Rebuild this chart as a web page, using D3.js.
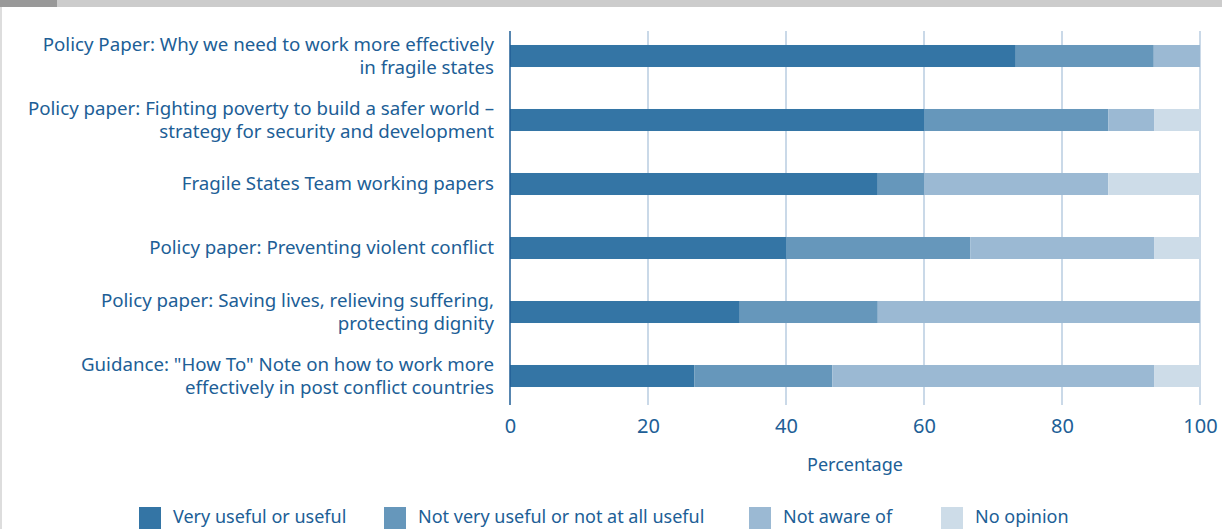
<!DOCTYPE html>
<html>
<head>
<meta charset="utf-8">
<script src="https://cdn.jsdelivr.net/npm/d3@7"></script>
<style>
  body { margin: 0; background: #fff; overflow: hidden; }
  text { font-family: "Noto Sans", sans-serif; fill: #205e96; }
</style>
</head>
<body>
<div id="chart"></div>
<script>
// documents (top to bottom), each label split into lines
const documents = [
    ["Policy Paper: Why we need to work more effectively", "in fragile states"],
    ["Policy paper: Fighting poverty to build a safer world \u2013", "strategy for security and development"],
    ["Fragile States Team working papers"],
    ["Policy paper: Preventing violent conflict"],
    ["Policy paper: Saving lives, relieving suffering,", "protecting dignity"],
    ["Guidance: \"How To\" Note on how to work more", "effectively in post conflict countries"]
];
const seriesNames = ["Very useful or useful", "Not very useful or not at all useful", "Not aware of", "No opinion"];
const veryUseful = [73.3, 60.0, 53.3, 40.0, 33.3, 26.7];
const notUseful = [20.0, 26.7, 6.7, 26.7, 20.0, 20.0];
const notAware = [6.7, 6.7, 26.7, 26.7, 46.7, 46.7];
const noOpinion = [0, 6.7, 13.3, 6.7, 0, 6.7];
const xTicks = [0, 20, 40, 60, 80, 100];
const colors = ["#3475a5", "#6697bb", "#9bb9d3", "#cddce8"];

const width = 1222, height = 529;

const svg = d3.select("#chart").append("svg")
    .attr("width", width)
    .attr("height", height);

// page decoration: grey strip at top and left edge
svg.append("rect").attr("x", 0).attr("y", 0).attr("width", width).attr("height", 7).attr("fill", "#cccccc");
svg.append("rect").attr("x", 0).attr("y", 0).attr("width", 57).attr("height", 7).attr("fill", "#999999");
svg.append("rect").attr("x", 0).attr("y", 7).attr("width", 2).attr("height", height).attr("fill", "#dddddd");

const rows = documents.map((d, i) => ({
    label: d, idx: i,
    vals: [veryUseful[i], notUseful[i], notAware[i], noOpinion[i]]
}));

const x = d3.scaleLinear().domain([0, 100]).range([510, 1200]);
const y = d3.scaleBand()
    .domain(rows.map(r => r.idx))
    .range([24, 408])
    .paddingInner(0.656)
    .paddingOuter(0.328);

// gridlines
svg.append("g")
    .selectAll("line")
    .data(xTicks.filter(t => t > 0))
    .join("line")
    .attr("x1", d => x(d)).attr("x2", d => x(d))
    .attr("y1", 31).attr("y2", 405)
    .attr("stroke", "#b8cde0")
    .attr("stroke-width", 1.5);

// stacked bars
const stack = d3.stack().keys([0, 1, 2, 3]).value((r, k) => r.vals[k]);
const layers = stack(rows);

svg.append("g")
    .selectAll("g")
    .data(layers)
    .join("g")
    .attr("fill", (d, i) => colors[i])
    .selectAll("rect")
    .data(d => d)
    .join("rect")
    .attr("x", d => x(d[0]))
    .attr("y", d => y(d.data.idx))
    .attr("width", d => x(d[1]) - x(d[0]))
    .attr("height", y.bandwidth());

// vertical axis line
svg.append("line")
    .attr("x1", x(0)).attr("x2", x(0))
    .attr("y1", 31).attr("y2", 405)
    .attr("stroke", "#205e96")
    .attr("stroke-width", 1.5);

// x axis tick labels
const xAxis = svg.append("g")
    .attr("transform", "translate(0,405)")
    .call(d3.axisBottom(x).tickValues(xTicks).tickSize(0).tickPadding(14).tickFormat(d3.format("d")));
xAxis.select(".domain").remove();
xAxis.selectAll("text")
    .attr("fill", "#205e96")
    .style("font-size", "20px")
    .style("font-family", "'Noto Sans', sans-serif");

svg.append("text")
    .attr("x", x(50))
    .attr("y", 471)
    .attr("text-anchor", "middle")
    .style("font-size", "18px")
    .text("Percentage");

// category labels
const lab = svg.append("g")
    .selectAll("text")
    .data(rows)
    .join("text")
    .attr("text-anchor", "end")
    .style("font-size", "18.7px")
    .attr("y", r => y(r.idx) + y.bandwidth() / 2 + 6 - (r.label.length - 1) * 11.5);
lab.selectAll("tspan")
    .data(r => r.label)
    .join("tspan")
    .attr("x", 494)
    .attr("dy", (d, i) => i === 0 ? 0 : 23)
    .text(d => d);

// legend
const legendX = [139, 384, 749, 941];
const legend = svg.append("g")
    .selectAll("g")
    .data(seriesNames)
    .join("g")
    .attr("transform", (d, i) => `translate(${legendX[i]},507)`);
legend.append("rect")
    .attr("width", 22).attr("height", 22)
    .attr("fill", (d, i) => colors[i]);
legend.append("text")
    .attr("x", 34)
    .attr("y", 16)
    .style("font-size", "18px")
    .text(d => d);
</script>
</body>
</html>
